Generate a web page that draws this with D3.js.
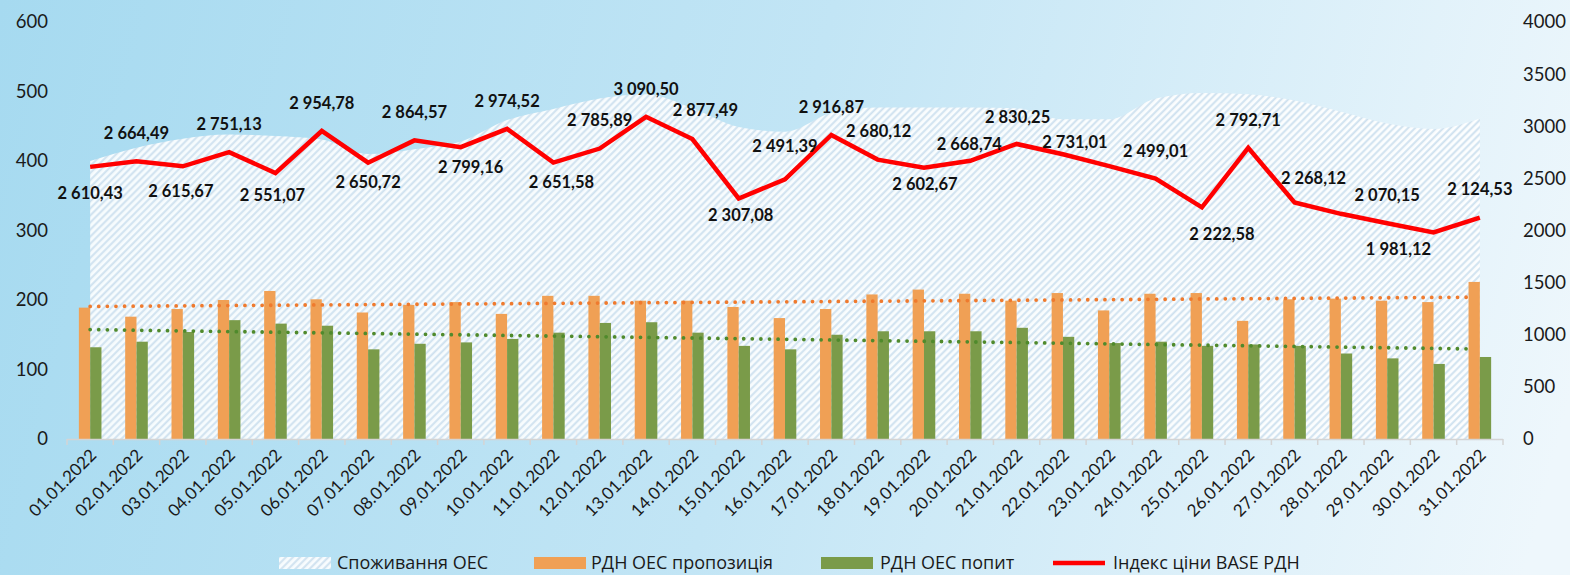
<!DOCTYPE html>
<html><head><meta charset="utf-8">
<script src="https://cdn.jsdelivr.net/npm/d3@7"></script>
<style>html,body{margin:0;padding:0;background:#fff}svg{display:block}</style>
</head><body><svg id="c" width="1570" height="575"></svg>
<script>
const dates = ["01.01.2022","02.01.2022","03.01.2022","04.01.2022","05.01.2022","06.01.2022","07.01.2022","08.01.2022","09.01.2022","10.01.2022","11.01.2022","12.01.2022","13.01.2022","14.01.2022","15.01.2022","16.01.2022","17.01.2022","18.01.2022","19.01.2022","20.01.2022","21.01.2022","22.01.2022","23.01.2022","24.01.2022","25.01.2022","26.01.2022","27.01.2022","28.01.2022","29.01.2022","30.01.2022","31.01.2022"];
const consumption = [400,419,432,438,436,431,410,417,428,459,475,490,496,476,449,442,469,477,477,477,476,460,460,490,498,496,487,471,454,446,461];
const supply = [189,176,187,200,213,201,182,193,197,180,206,206,199,199,190,174,187,208,215,209,199,210,185,209,210,170,201,202,199,197,226];
const demand = [132,140,154,171,166,163,129,137,139,144,153,167,168,153,134,129,150,155,155,155,160,147,138,140,134,136,134,123,116,108,118];
const price = [2610.43,2664.49,2615.67,2751.13,2551.07,2954.78,2650.72,2864.57,2799.16,2974.52,2651.58,2785.89,3090.50,2877.49,2307.08,2491.39,2916.87,2680.12,2602.67,2668.74,2830.25,2731.01,2617,2499.01,2222.58,2792.71,2268.12,2160,2070.15,1981.12,2124.53];
const priceLabelShown = [1,1,1,1,1,1,1,1,1,1,1,1,1,1,1,1,1,1,1,1,1,1,0,1,1,1,1,0,1,1,1];
const leftTicks = [0,100,200,300,400,500,600];
const rightTicks = [0,500,1000,1500,2000,2500,3000,3500,4000];
const legendNames = ["Споживання ОЕС","РДН ОЕС пропозиція","РДН ОЕС попит","Індекс ціни BASE РДН"];

// label placement (layout only)
const labelOffsets = [[0,26],[0,-28],[-2,25],[0,-28],[-3,22],[0,-28],[0,20],[0,-28],[10,20],[0,-28],[8,20],[0,-28],[0,-28],[13,-29],[2,17],[0,-33],[0,-28],[1,-28],[1,17],[-1,-17],[1,-27],[12,-12],[0,0],[0,-27],[20,27],[0,-28],[19,-24],[0,0],[0,-28],[-35,17],[0,-28]];

const svg = d3.select("#c");
const W = 1570, H = 575;
const defs = svg.append("defs");
const bg = defs.append("linearGradient").attr("id","bg").attr("gradientUnits","userSpaceOnUse")
  .attr("x1",0).attr("y1",0).attr("x2",W).attr("y2",400);
bg.append("stop").attr("offset",0).attr("stop-color","#a6daf0");
bg.append("stop").attr("offset",0.5).attr("stop-color","#c2e5f5");
bg.append("stop").attr("offset",1).attr("stop-color","#eef7fc");
const pat = defs.append("pattern").attr("id","hatch").attr("patternUnits","userSpaceOnUse")
  .attr("width",5).attr("height",5).attr("patternTransform","rotate(45)");
pat.append("rect").attr("width",5).attr("height",5).attr("fill","#ffffff").attr("fill-opacity",0.9);
pat.append("line").attr("x1",1.2).attr("y1",0).attr("x2",1.2).attr("y2",5).attr("stroke","#cfe1ef").attr("stroke-width",2);

svg.append("rect").attr("width",W).attr("height",H).attr("fill","url(#bg)");

const x0 = 67, x1 = 1503, yTop = 22, yBot = 439;
const x = d3.scaleBand().domain(dates).range([x0,x1]).padding(0);
const yL = d3.scaleLinear().domain([0,600]).range([yBot,yTop]);
const yR = d3.scaleLinear().domain([0,4000]).range([yBot,yTop]);
const cx = d => x(d) + x.bandwidth()/2;

// consumption area
const area = d3.area().x((d,i)=>cx(dates[i])).y0(yL(0)).y1(d=>yL(d)).curve(d3.curveMonotoneX);
svg.append("path").datum(consumption).attr("d",area).attr("fill","url(#hatch)");

// bars
const bw = 11.3;
svg.append("g").selectAll("rect").data(supply).join("rect")
  .attr("x",(d,i)=>cx(dates[i])-bw).attr("width",bw)
  .attr("y",d=>yL(d)).attr("height",d=>yL(0)-yL(d)).attr("fill","#f0a055");
svg.append("g").selectAll("rect").data(demand).join("rect")
  .attr("x",(d,i)=>cx(dates[i])).attr("width",bw)
  .attr("y",d=>yL(d)).attr("height",d=>yL(0)-yL(d)).attr("fill","#7a9b49");

// trend lines (linear regression of the bar series)
function trend(arr){
  const n = arr.length, xs = d3.range(1,n+1);
  const mx = d3.mean(xs), my = d3.mean(arr);
  const b = d3.sum(xs,(v,i)=>(v-mx)*(arr[i]-my))/d3.sum(xs,v=>(v-mx)*(v-mx));
  const a = my - b*mx;
  return [a+b*1, a+b*n];
}
function drawTrend(arr,color){
  const t = trend(arr);
  svg.append("line").attr("x1",cx(dates[0])).attr("x2",cx(dates[dates.length-1])-6)
    .attr("y1",yL(t[0])).attr("y2",yL(t[1]))
    .attr("stroke",color).attr("stroke-width",3.8).attr("stroke-linecap","round")
    .attr("stroke-dasharray","0 8.6");
}
drawTrend(supply,"#ef7a2e");
drawTrend(demand,"#4f8a2c");

// x axis
svg.append("line").attr("x1",x0).attr("x2",x1).attr("y1",yBot+0.5).attr("y2",yBot+0.5).attr("stroke","#d4d4d4").attr("stroke-width",1.5);
svg.append("g").selectAll("line").data(d3.range(dates.length+1)).join("line")
  .attr("x1",i=>x0+i*x.bandwidth()).attr("x2",i=>x0+i*x.bandwidth())
  .attr("y1",yBot).attr("y2",yBot+6).attr("stroke","#d4d4d4").attr("stroke-width",1.5);
svg.append("g").selectAll("text").data(dates).join("text")
  .attr("transform",d=>`translate(${cx(d)+3},${yBot+13}) rotate(-45)`)
  .attr("text-anchor","end").attr("dy","0.35em")
  .attr("font-family","Lato, 'Noto Sans', sans-serif").attr("font-size",17).attr("fill","#1a1a1a")
  .text(d=>d);

// y axes
svg.append("g").selectAll("text").data(leftTicks).join("text")
  .attr("x",48).attr("y",d=>yL(d)).attr("dy","0.35em").attr("text-anchor","end")
  .attr("font-family","Lato, 'Noto Sans', sans-serif").attr("font-size",18.5).attr("fill","#1a1a1a").text(d=>d);
svg.append("g").selectAll("text").data(rightTicks).join("text")
  .attr("x",1523).attr("y",d=>yR(d)).attr("dy","0.35em").attr("text-anchor","start")
  .attr("font-family","Lato, 'Noto Sans', sans-serif").attr("font-size",18.5).attr("fill","#1a1a1a").text(d=>d);

// price line
const line = d3.line().x((d,i)=>cx(dates[i])).y(d=>yR(d));
svg.append("path").datum(price).attr("d",line).attr("fill","none").attr("stroke","#ff0000")
  .attr("stroke-width",4.5).attr("stroke-linejoin","miter");

// labels
const loc = d3.formatLocale({decimal:",", thousands:" ", grouping:[3], currency:["",""]});
const fmt = loc.format(",.2f");
const labelData = price.map((v,i)=>({v,i})).filter(o=>priceLabelShown[o.i]);
svg.append("g").selectAll("text").data(labelData).join("text")
  .attr("x",o=>cx(dates[o.i])+labelOffsets[o.i][0])
  .attr("y",o=>yR(o.v)+labelOffsets[o.i][1])
  .attr("dy","0.35em").attr("text-anchor","middle")
  .attr("font-family","Lato, 'Noto Sans', sans-serif").attr("font-weight","bold").attr("font-size",16.5).attr("fill","#111")
  .text(o=>fmt(o.v));

// legend
const ly = 563;
const lg = svg.append("g").attr("font-family","'Open Sans', 'Noto Sans', sans-serif").attr("font-size",18).attr("fill","#1a1a1a");
const items = [
  {x:279, type:"hatch", tx:337},
  {x:534, type:"orange", tx:591},
  {x:821, type:"green", tx:880},
  {x:1053, type:"line", tx:1113}
];
items.forEach((it,i)=>{
  if(it.type==="line"){
    lg.append("line").attr("x1",it.x).attr("x2",it.x+52).attr("y1",ly).attr("y2",ly).attr("stroke","#ff0000").attr("stroke-width",4.5);
  } else {
    lg.append("rect").attr("x",it.x).attr("y",ly-6).attr("width",52).attr("height",12)
      .attr("fill", it.type==="hatch" ? "url(#hatch)" : it.type==="orange" ? "#f0a055" : "#7a9b49");
  }
  lg.append("text").attr("x",it.tx).attr("y",ly).attr("dy","0.35em").text(legendNames[i]);
});
</script></body></html>
